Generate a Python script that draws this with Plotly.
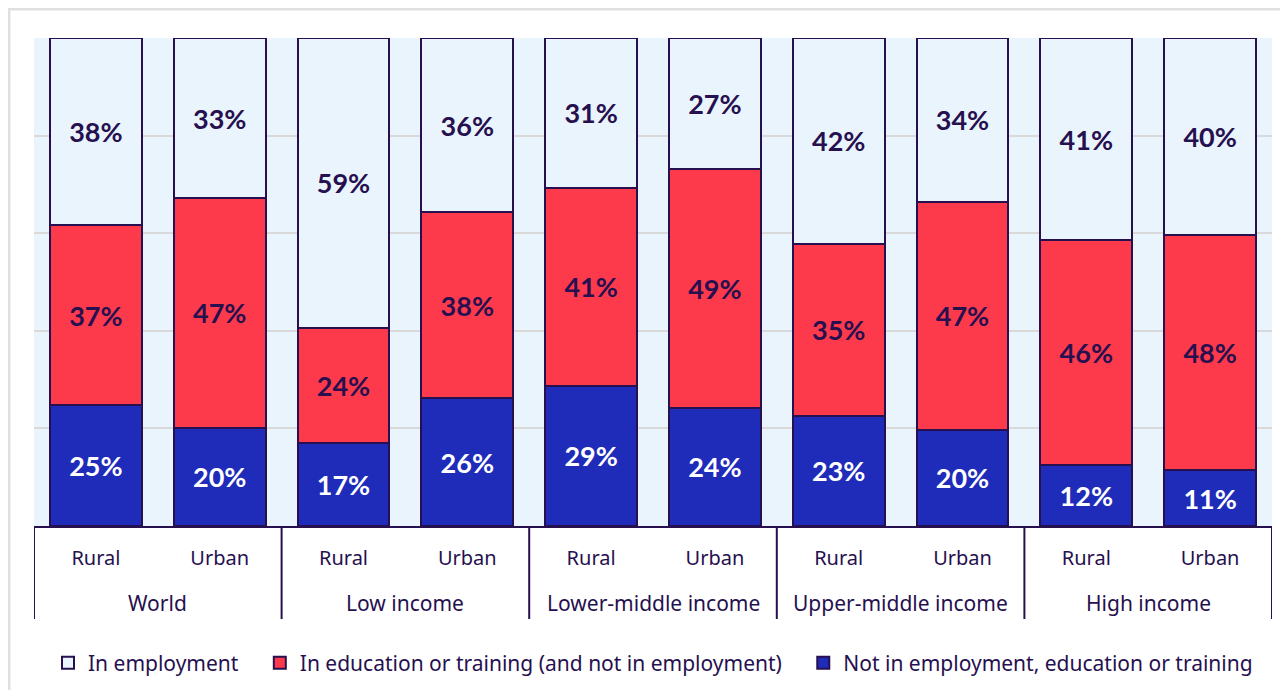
import plotly.graph_objects as go

groups = ["World", "World", "Low income", "Low income", "Lower-middle income", "Lower-middle income",
          "Upper-middle income", "Upper-middle income", "High income", "High income"]
areas = ["Rural", "Urban"] * 5
group_names = ["World", "Low income", "Lower-middle income", "Upper-middle income", "High income"]

neet = [24.7, 20.1, 17.0, 26.2, 28.7, 24.2, 22.6, 19.7, 12.4, 11.4]
education = [36.9, 47.1, 23.6, 38.1, 40.6, 49.0, 35.2, 46.7, 46.2, 48.2]
employment = [38.4, 32.8, 59.4, 35.7, 30.7, 26.8, 42.2, 33.6, 41.4, 40.4]

series_names = ["Not in employment, education or training",
                "In education or training (and not in employment)",
                "In employment"]

NAVY = "#26104f"
BLUE = "#1f2bb9"
RED = "#fd3a4b"
LIGHT = "#eaf4fc"
NB = "\u00a0"

keys = [f"{g}|{a}" for g, a in zip(groups, areas)]

fig = go.Figure()
for name, vals, color, tcolor, rank, pad in [
    (series_names[0], neet, BLUE, "white", 3, 0),
    (series_names[1], education, RED, NAVY, 2, 3),
    (series_names[2], employment, LIGHT, NAVY, 1, 3),
]:
    fig.add_trace(go.Bar(
        x=keys, y=vals, name=name + NB * pad,
        marker=dict(color=color, line=dict(color=NAVY, width=2)),
        texttemplate="%{y:.0f}%", textposition="inside", insidetextanchor="middle",
        textangle=0,
        textfont=dict(family="Lato, Inter, sans-serif", size=27, color=tcolor, weight="bold"),
        legendrank=rank, hoverinfo="skip",
    ))

# group labels and dividers positioned in category-axis units
annotations = []
for i, gname in enumerate(group_names):
    annotations.append(dict(x=2 * i + 0.5, xref="x", y=-0.1578, yref="paper", text=gname,
                            showarrow=False, yanchor="middle", xanchor="center",
                            font=dict(size=21, color=NAVY)))
shapes = [dict(type="rect", xref="paper", yref="paper", x0=-0.0202, x1=1.1, y0=-0.5, y1=1.0594,
               line=dict(color="#e0e0e0", width=3), fillcolor="rgba(0,0,0,0)", layer="below")]
for b in range(len(group_names) + 1):
    shapes.append(dict(type="line", xref="x", yref="paper", x0=2 * b - 0.5, x1=2 * b - 0.5,
                       y0=0, y1=-0.1906, line=dict(color=NAVY, width=2)))

fig.update_layout(
    width=1280, height=682,
    barmode="stack", bargap=0.26,
    paper_bgcolor="white", plot_bgcolor=LIGHT,
    margin=dict(l=26, r=16, t=30, b=164, autoexpand=False),
    font=dict(family="Noto Sans, Open Sans, sans-serif", size=20, color=NAVY),
    showlegend=True,
    legend=dict(orientation="h", x=0.5, xanchor="center", y=-0.281, yanchor="middle",
                font=dict(size=21, color=NAVY), traceorder="normal", itemwidth=30,
                tracegroupgap=0),
    uniformtext=dict(minsize=10, mode="show"),
    annotations=annotations,
    shapes=shapes,
)
fig.update_xaxes(
    type="category", categoryorder="array", categoryarray=keys,
    tickmode="array", tickvals=keys, ticktext=areas,
    showline=True, linecolor=NAVY, linewidth=2,
    tickfont=dict(size=20, color=NAVY), ticks="", ticklabelstandoff=13,
    showgrid=False, range=[-0.5, 9.5],
)
fig.update_yaxes(
    range=[0, 100], showticklabels=False, showgrid=True, gridcolor="#d9d9d9", gridwidth=2,
    dtick=20, zeroline=False, showline=False,
)

fig.write_html("out.html")
